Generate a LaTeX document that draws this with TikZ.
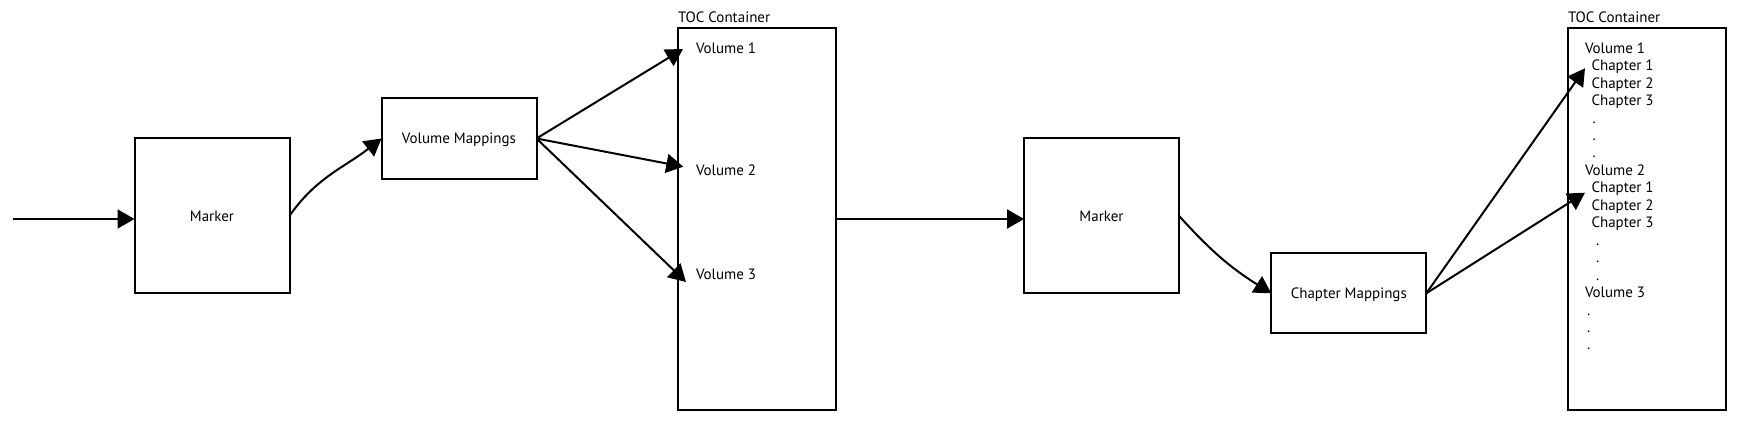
\documentclass[tikz,border=0pt]{standalone}
\usepackage{fontspec}
\setmainfont{PT Sans}
\usetikzlibrary{arrows.meta}
\begin{document}
\begin{tikzpicture}[x=1bp,y=-1bp,
  every node/.style={font=\fontsize{15bp}{17.5bp}\selectfont, inner sep=0pt, outer sep=0pt},
  box/.style={draw, line width=2bp, minimum width=155bp, text height=10.5bp, text depth=0pt},
  txt/.style={anchor=base west},
  conn/.style={line width=2bp, -{Triangle[length=17bp,width=19bp]}},
  plain/.style={line width=2bp}
]
\useasboundingbox (0,0) rectangle (1753,436);
% boxes
\node[box, minimum height=155bp] (m1) at (212,215.8) {Marker};
\node[box, minimum height=80.4bp] (vm) at (459,138.5) {Volume Mappings};
\node[draw, line width=2bp, minimum width=157.7bp, minimum height=382bp] (toc1) at (756.9,219) {};
\node[box, minimum height=155bp] (m2) at (1101.5,215.8) {Marker};
\node[box, minimum height=80bp] (cm) at (1348.8,293.3) {Chapter Mappings};
\node[draw, line width=2bp, minimum width=157.5bp, minimum height=382bp] (toc2) at (1646.8,219) {};
% container titles
\node[txt] (toc1t) at (678,22.7) {TOC Container};
\node[txt] (toc2t) at (1568,22.7) {TOC Container};
% TOC 1 entries
\node[txt] (v1) at (696,53.3) {Volume 1};
\node[txt] (v2) at (696,176) {Volume 2};
\node[txt] (v3) at (696,280) {Volume 3};
% TOC 2 entries
\foreach \t/\xx/\k [count=\n] in {
  Volume 1/1585/0, Chapter 1/1591.5/1, Chapter 2/1591.5/2, Chapter 3/1591.5/3,
  ./1592.6/4, ./1592.6/5, ./1592.6/6,
  Volume 2/1585/7, Chapter 1/1591.5/8, Chapter 2/1591.5/9, Chapter 3/1591.5/10,
  ./1596/11, ./1596/12, ./1596/13,
  Volume 3/1585/14,
  ./1587/15, ./1587/16, ./1587/17}
  \node[txt] (e\n) at (\xx,53.3+17.45*\k) {\t};
% connector end points
\coordinate (in) at (12.5,219);
\coordinate (a1) at (683,49);
\coordinate (a2) at (683.3,166.7);
\coordinate (a3) at (686,282);
\coordinate (b1) at (1585,68.3);
\coordinate (b2) at (1585,192.7);
% connectors
\draw[conn] (in) -- (in -| m1.west);
\draw[conn] (m1.east) to[out=55,in=-142] (vm.west);
\draw[conn] (vm.east) -- (a1);
\draw[conn] (vm.east) -- (a2);
\draw[conn] (vm.east) -- (a3);
\draw[conn] (toc1.east) -- (toc1.east -| m2.west);
\draw[conn] (m2.east) to[out=-48,in=148] (cm.west);
\draw[conn] (cm.east) -- (b1);
\draw[conn] (cm.east) -- (b2);
\end{tikzpicture}
\end{document}
